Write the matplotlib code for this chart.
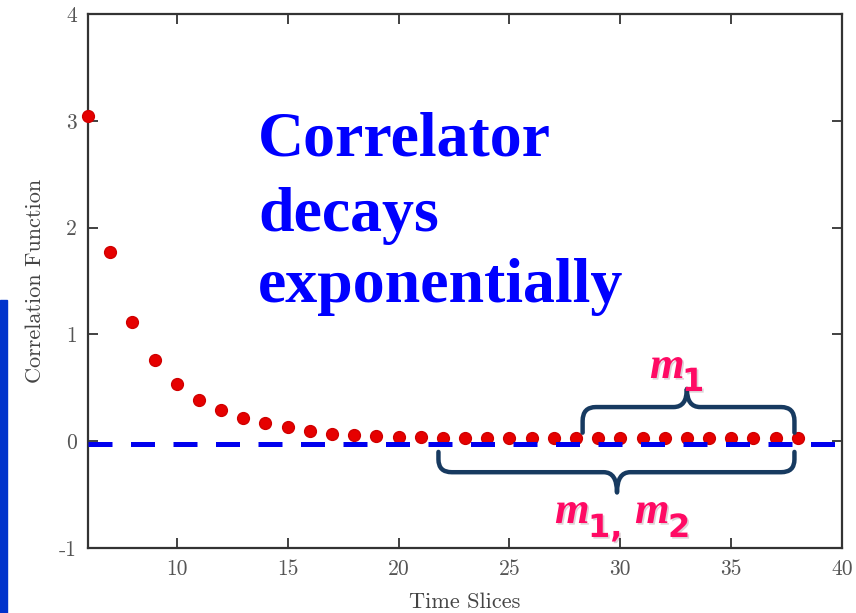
import numpy as np
import matplotlib
matplotlib.use("Agg")
import matplotlib.pyplot as plt
from matplotlib.path import Path
from matplotlib.patches import PathPatch, Rectangle
import matplotlib.patheffects as pe

# correlator values
time_slices = list(range(6, 39))
corr = [3.05, 1.77, 1.12, 0.76, 0.54, 0.39, 0.29, 0.22, 0.17, 0.13,
        0.095, 0.07, 0.056, 0.047, 0.04, 0.036, 0.034, 0.033, 0.032, 0.032,
        0.031, 0.031, 0.031, 0.030, 0.030, 0.030, 0.030, 0.030, 0.030, 0.030,
        0.030, 0.030, 0.030]
zero_line_x = [6, 40]
zero_line_y = [-0.03, -0.03]

xticks = [10, 15, 20, 25, 30, 35, 40]
yticks = [-1, 0, 1, 2, 3, 4]
ytick_labels = ['-1', '0', '1', '2', '3', '4']

navy = '#173a60'
pink = '#ff0a64'

fig = plt.figure(figsize=(8.56, 6.13), dpi=100)
ax = fig.add_axes([0.1028, 0.106, 0.881, 0.871])

ax.plot(time_slices, corr, 'o', color='#e60000', markersize=8.5,
        markeredgecolor='#d00000', zorder=3, clip_on=False)
ax.plot(zero_line_x, zero_line_y, color='#0000ee', lw=3.6,
        linestyle=(0, (4.8, 3.7)), zorder=4, clip_on=False)

ax.set_xlim(6, 40)
ax.set_ylim(-1, 4)
ax.set_xticks(xticks)
ax.set_yticks(yticks)
ax.set_yticklabels(ytick_labels)

tfont = dict(family='cmr10', size=16, color='#444444')
for lab in ax.get_xticklabels() + ax.get_yticklabels():
    lab.set_fontfamily('cmr10')
    lab.set_fontsize(15.5)
    lab.set_color('#555555')
ax.tick_params(direction='in', length=7, width=1.3, top=True, right=True,
               color='#333333', pad=8)
for s in ax.spines.values():
    s.set_linewidth(1.6)
    s.set_color('#333333')

ax.set_xlabel('Time Slices', fontdict=tfont, labelpad=10)
ax.set_ylabel('Correlation Function', fontdict=tfont, labelpad=10)

# big annotation
txt = dict(family='Liberation Serif', weight='bold', size=46, color='#0000ff',
           transform=fig.transFigure, ha='left', va='baseline')
fig.text(258 / 856, 1 - 155 / 613, 'Correlator', **txt)
fig.text(258 / 856, 1 - 231 / 613, 'decays', **txt)
fig.text(258 / 856, 1 - 302 / 613, 'exponentially', **txt)


def brace(x0, x1, xt, y_end, y_h, y_tip, rx, ry):
    verts = [(x0, y_end), (x0, y_h - ry), (x0, y_h), (x0 + rx, y_h),
             (xt - rx, y_h), (xt, y_h), (xt, y_tip),
             (xt, y_h), (xt + rx, y_h),
             (x1 - rx, y_h), (x1, y_h), (x1, y_h - ry), (x1, y_end)]
    codes = [Path.MOVETO, Path.LINETO, Path.CURVE3, Path.CURVE3,
             Path.LINETO, Path.CURVE3, Path.CURVE3,
             Path.CURVE3, Path.CURVE3,
             Path.LINETO, Path.CURVE3, Path.CURVE3, Path.LINETO]
    return PathPatch(Path(verts, codes), fill=False, edgecolor=navy, lw=3.2,
                     capstyle='round', joinstyle='round', zorder=5)


# upper brace (m1), lower brace (m1, m2)
ax.add_patch(brace(28.3, 37.85, 33.0, 0.08, 0.32, 0.49, 0.6, 0.13))
ax.add_patch(brace(21.8, 37.85, 29.85, -0.10, -0.29, -0.48, 0.6, -0.12))

shadow = [pe.withSimplePatchShadow(offset=(1.2, -1.2), alpha=0.18)]
mfont = dict(family='Liberation Serif', weight='bold', style='italic',
             size=32, color=pink, transform=fig.transFigure, va='baseline',
             ha='left', path_effects=shadow)
sfont = dict(family='DejaVu Sans', weight='bold', size=23, color=pink,
             transform=fig.transFigure, va='baseline', ha='left',
             path_effects=shadow)

fig.text(650 / 856, 1 - 378 / 613, 'm', **mfont)
fig.text(682 / 856, 1 - 391 / 613, '1', **sfont)
fig.text(555 / 856, 1 - 523 / 613, 'm', **mfont)
fig.text(588 / 856, 1 - 537 / 613, '1,', **sfont)
fig.text(635 / 856, 1 - 523 / 613, 'm', **mfont)
fig.text(668 / 856, 1 - 537 / 613, '2', **sfont)

# blue strip at the left edge
fig.patches.append(Rectangle((0, 0), 7 / 856, 1 - 300 / 613,
                             transform=fig.transFigure, color='#0033cc',
                             zorder=0))

fig.savefig('out.png', dpi=100)
